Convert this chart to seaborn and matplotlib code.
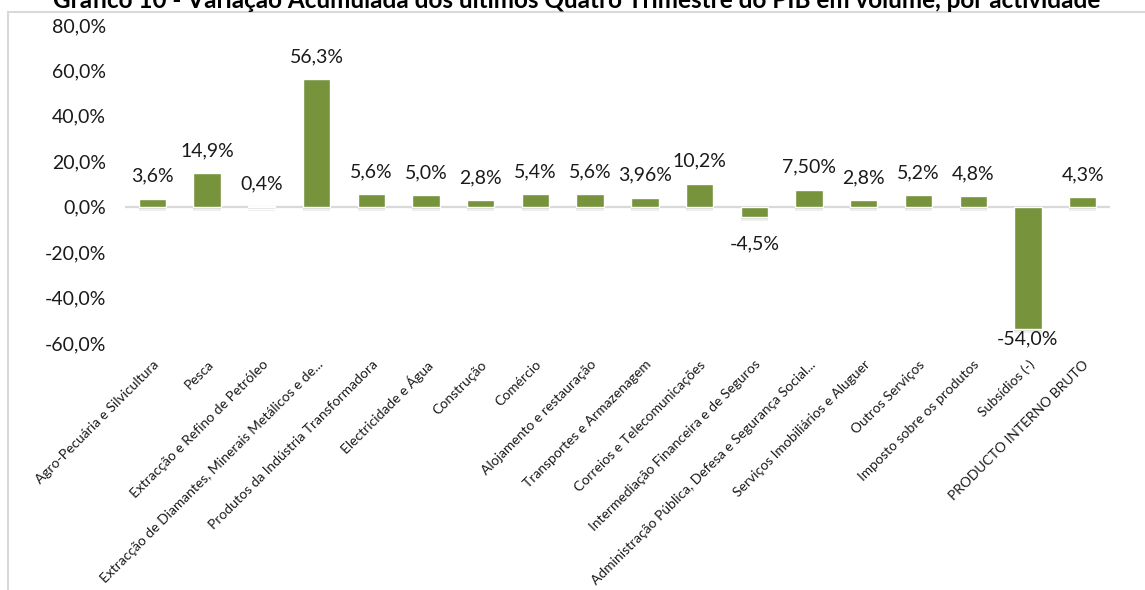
import matplotlib
matplotlib.use("Agg")
import matplotlib.pyplot as plt
import matplotlib.transforms as mtransforms
import seaborn as sns
import pandas as pd
from matplotlib.patches import Rectangle

categories = [
    "Agro-Pecuária e Silvicultura",
    "Pesca",
    "Extracção e Refino de Petróleo",
    "Extracção de Diamantes, Minerais Metálicos e de...",
    "Produtos da Indústria Transformadora",
    "Electricidade e Água",
    "Construção",
    "Comércio",
    "Alojamento e restauração",
    "Transportes e Armazenagem",
    "Correios e Telecomunicações",
    "Intermediação Financeira e de Seguros",
    "Administração Pública, Defesa e Segurança Social...",
    "Serviços Imobiliários e Aluguer",
    "Outros Serviços",
    "Imposto sobre os produtos",
    "Subsídios (-)",
    "PRODUCTO INTERNO BRUTO",
]
values = [3.6, 14.9, 0.4, 56.3, 5.6, 5.0, 2.8, 5.4, 5.6, 3.96, 10.2, -4.5,
          7.50, 2.8, 5.2, 4.8, -54.0, 4.3]
value_labels = ["3,6%", "14,9%", "0,4%", "56,3%", "5,6%", "5,0%", "2,8%",
                "5,4%", "5,6%", "3,96%", "10,2%", "-4,5%", "7,50%", "2,8%",
                "5,2%", "4,8%", "-54,0%", "4,3%"]
y_ticks = [-60, -40, -20, 0, 20, 40, 60, 80]
y_tick_labels = ["-60,0%", "-40,0%", "-20,0%", "0,0%", "20,0%", "40,0%",
                 "60,0%", "80,0%"]
title = ("Gráfico 10 - Variação Acumulada dos últimos Quatro Trimestre "
         "do PIB em volume, por actividade")

sns.set_theme(style="white")
plt.rcParams["font.family"] = ["Lato", "DejaVu Sans"]

df = pd.DataFrame({"cat": categories, "val": values})

fig = plt.figure(figsize=(11.45, 5.90), dpi=100)
ax = fig.add_axes([125 / 1145, 1 - 343 / 590, (1110 - 125) / 1145,
                   (343 - 25) / 590])

bar_color = "#77933C"
sns.barplot(data=df, x="cat", y="val", order=categories, color=bar_color,
            width=0.5, saturation=1, ax=ax, zorder=3)

# soft drop shadow under each bar (Excel style)
for p in list(ax.patches):
    for dy, a in ((-2, 0.18), (-4, 0.12)):
        tr = mtransforms.offset_copy(ax.transData, fig=fig, x=0, y=dy,
                                     units="dots")
        ax.add_patch(Rectangle(p.get_xy(), p.get_width(), p.get_height(),
                               transform=tr, facecolor="#7f7f7f", alpha=a,
                               edgecolor="none", zorder=2.5))

ax.set_ylim(-60, 80)
ax.set_xlim(-0.5, len(categories) - 0.5)
ax.axhline(0, color="#d9d9d9", lw=1.6, zorder=2)

ax.set_yticks(y_ticks)
ax.set_yticklabels(y_tick_labels, fontsize=14, color="#1a1a1a")
ax.tick_params(axis="y", length=0, pad=13.5)
ax.set_xticks(range(len(categories)))
ax.set_xticklabels(categories, rotation=45, ha="right", va="top",
                   rotation_mode="anchor", fontsize=10, color="#1a1a1a")
ax.tick_params(axis="x", length=0, pad=11)
ax.set_xlabel("")
ax.set_ylabel("")
for s in ax.spines.values():
    s.set_visible(False)

for i, (v, lab) in enumerate(zip(values, value_labels)):
    if v >= 0:
        ax.annotate(lab, (i, v), xytext=(0, 10), textcoords="offset points",
                    ha="center", va="bottom", fontsize=14, color="#1a1a1a")
    else:
        off = -13 if v > -30 else -1
        ax.annotate(lab, (i, v), xytext=(0, off), textcoords="offset points",
                    ha="center", va="top", fontsize=14, color="#1a1a1a")

# chart border (partially cropped)
fig.patches.append(Rectangle((8 / 1145, -0.1), 1.2, 1.1 - 12 / 590,
                             transform=fig.transFigure, fill=False,
                             edgecolor="#d9d9d9", lw=1.5))

# title sits mostly above the visible area, as in the reference
fig.text(577 / 1145, 1 - 8.5 / 590, title, ha="center", va="baseline",
         fontsize=17.5, fontweight="bold", color="#000000")

fig.savefig("out.png", dpi=100, facecolor="white")
